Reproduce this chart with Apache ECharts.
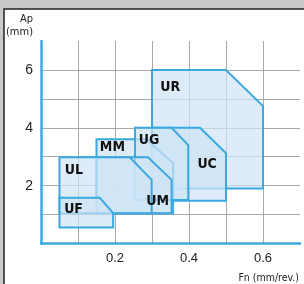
<!DOCTYPE html>
<html>
<head>
<meta charset="utf-8">
<script src="https://cdn.jsdelivr.net/npm/echarts@6/dist/echarts.min.js"></script>
<style>
  html, body { margin: 0; padding: 0; }
  #chart { width: 304px; height: 284px; }
</style>
</head>
<body>
<div id="chart"></div>
<script>
// zonas de aplicação (Fn x Ap), vértices em unidades dos eixos
const nomes = ['UR', 'UC', 'MM', 'UG', 'UM', 'UL', 'UF'];
const UR = [[0.3, 6], [0.5, 6], [0.6, 4.75], [0.6, 1.9], [0.3, 1.9]];
const UC = [[0.3, 4], [0.43, 4], [0.5, 3.12], [0.5, 1.48], [0.3, 1.48]];
const MM = [[0.15, 3.6], [0.284, 3.6], [0.357, 2.78], [0.357, 1.05], [0.15, 1.05]];
const UG = [[0.254, 4], [0.353, 4], [0.398, 3.4], [0.398, 1.5], [0.254, 1.5]];
const UM = [[0.15, 2.98], [0.289, 2.98], [0.353, 2.2], [0.353, 1.05], [0.15, 1.05]];
const UL = [[0.05, 2.98], [0.24, 2.98], [0.299, 2.2], [0.299, 1.05], [0.05, 1.05]];
const UF = [[0.05, 1.58], [0.159, 1.58], [0.195, 1.05], [0.195, 0.55], [0.05, 0.55]];
const zonas = [UR, UC, MM, UG, UM, UL, UF];

// onde fica o rótulo de cada zona
const rotuloX = [0.349, 0.449, 0.193, 0.292, 0.315, 0.089, 0.088];
const rotuloY = [5.41, 2.72, 3.31, 3.58, 1.47, 2.53, 1.19];

// eixos
const fnMin = 0, fnMax = 0.7, fnPasso = 0.1;
const apMin = 0, apMax = 7, apPasso = 1;
const fnRotulos = [0.2, 0.4, 0.6];
const apRotulos = [2, 4, 6];

const azul = '#3aa9e0';
const grafico = echarts.init(document.getElementById('chart'));

const seriesZonas = zonas.map((pts, i) => ({
    name: nomes[i],
    type: 'custom',
    z: 2 + i,
    data: [[rotuloX[i], rotuloY[i]]],
    renderItem: (params, api) => ({
        type: 'polygon',
        shape: { points: pts.map(p => api.coord(p)) },
        style: {
            fill: 'rgba(206,228,245,0.7)',
            stroke: azul,
            lineWidth: 2,
            lineJoin: 'miter'
        }
    })
}));

const serieRotulos = {
    type: 'custom',
    z: 20,
    data: rotuloX.map((x, i) => [x, rotuloY[i], i]),
    renderItem: (params, api) => {
        const p = api.coord([api.value(0), api.value(1)]);
        return {
            type: 'text',
            style: {
                text: nomes[api.value(2)],
                x: p[0], y: p[1],
                fill: '#111',
                font: 'bold 14px "Liberation Sans Narrow", "DejaVu Sans Condensed", sans-serif',
                align: 'center',
                verticalAlign: 'middle'
            }
        };
    }
};

const eq = (a, b) => Math.abs(a - b) < 1e-6;

const option = {
    animation: false,
    backgroundColor: '#c9c9c9',
    graphic: [{
        type: 'rect',
        z: -100,
        shape: { x: 4, y: 9, width: 320, height: 300 },
        style: { fill: '#fff', stroke: '#222', lineWidth: 1.5 }
    }],
    grid: { left: 41, right: 4, top: 41, bottom: 40.5 },
    xAxis: {
        type: 'value',
        min: fnMin, max: fnMax, interval: fnPasso,
        name: 'Fn (mm/rev.)',
        nameLocation: 'end',
        nameGap: -1,
        nameTextStyle: {
            align: 'right', verticalAlign: 'top', padding: [29, 0, 0, 0],
            fontSize: 10.5, color: '#222',
            fontFamily: '"Liberation Sans Narrow", "DejaVu Sans Condensed", sans-serif'
        },
        axisLine: { onZero: false, lineStyle: { color: azul, width: 2.5 } },
        axisTick: { show: false },
        axisLabel: {
            margin: 8, fontSize: 13, color: '#222', fontFamily: '"Liberation Sans", sans-serif',
            formatter: v => fnRotulos.some(r => eq(r, v)) ? String(Math.round(v * 10) / 10) : ''
        },
        splitLine: { show: true, showMaxLine: false, lineStyle: { color: '#a8a8a8', width: 1 } }
    },
    yAxis: {
        type: 'value',
        min: apMin, max: apMax, interval: apPasso,
        name: 'Ap\n(mm)',
        nameLocation: 'end',
        nameGap: 2,
        nameTextStyle: {
            align: 'right', verticalAlign: 'bottom', padding: [0, 8, 0, 0],
            fontSize: 11, lineHeight: 13, color: '#222',
            fontFamily: '"Liberation Sans Narrow", "DejaVu Sans Condensed", sans-serif'
        },
        axisLine: { show: true, onZero: false, lineStyle: { color: azul, width: 2.5 } },
        axisTick: { show: false },
        axisLabel: {
            margin: 8, fontSize: 14, color: '#222', fontFamily: '"Liberation Sans", sans-serif',
            formatter: v => apRotulos.some(r => eq(r, v)) ? String(v) : ''
        },
        splitLine: { show: true, showMaxLine: false, lineStyle: { color: '#a8a8a8', width: 1 } }
    },
    series: [...seriesZonas, serieRotulos]
};

grafico.setOption(option);
</script>
</body>
</html>
